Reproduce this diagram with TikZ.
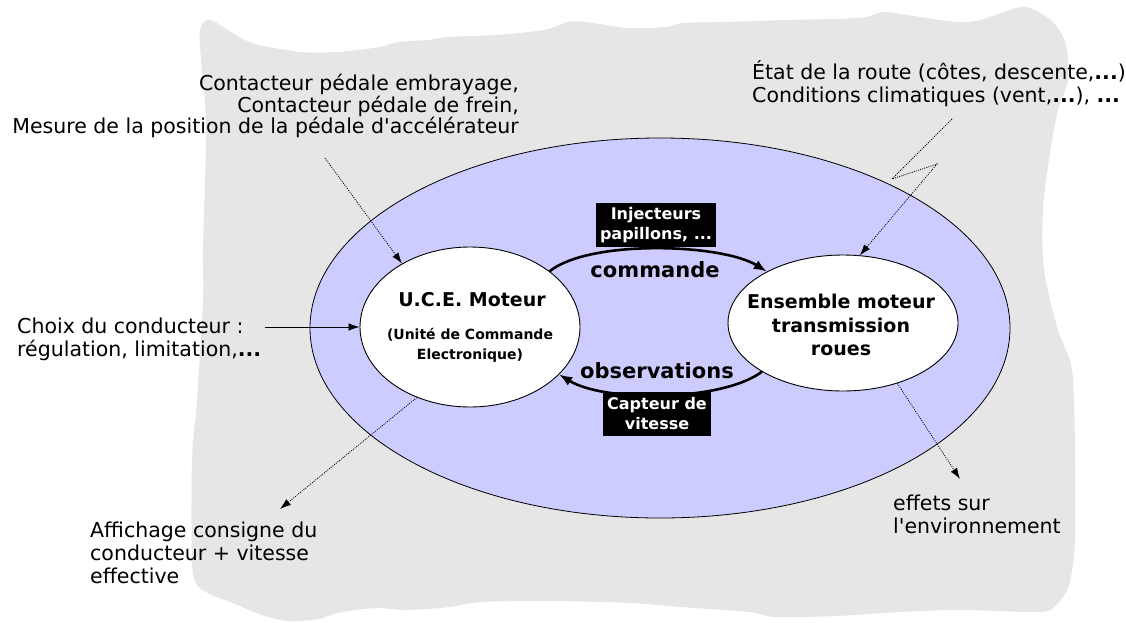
\documentclass[tikz,border=0pt]{standalone}
\usepackage{fontspec}
\newfontfamily\vfont{DejaVu Sans}
\usetikzlibrary{shapes.geometric,arrows.meta}
\definecolor{paper}{HTML}{E6E6E6}
\definecolor{lav}{HTML}{CCCCFF}

\begin{document}
\begin{tikzpicture}[x=1pt,y=-1pt,
  lbl/.style={font=\vfont\fontsize{20.5}{23}\selectfont, inner sep=0pt, align=left},
  inbold/.style={font=\vfont\bfseries\fontsize{19}{23.5}\selectfont, inner sep=0pt, align=center},
  flowlbl/.style={font=\vfont\bfseries\fontsize{21}{25}\selectfont, inner sep=0pt},
  tag/.style={fill=black, text=white, font=\vfont\bfseries\fontsize{16}{20}\selectfont,
    align=center, inner xsep=4.5pt, inner ysep=2pt, minimum height=44pt},
  unit/.style={ellipse, draw=black, line width=0.9pt, fill=white, inner sep=0pt},
  flow/.style={line width=2.6pt, -{Latex[length=13pt,width=10pt]}},
  hint/.style={line width=0.8pt, dash pattern=on 1pt off 1.2pt, -{Latex[length=11pt,width=7.5pt]}},
  feed/.style={line width=0.8pt, -{Latex[length=11pt,width=7.5pt]}},
]
\useasboundingbox (0,0) rectangle (1126,623);
\fill[white] (0,0) rectangle (1126,623);

% torn sheet behind the system
\fill[paper] plot[smooth cycle, tension=0.5] coordinates {
  (200,30) (210,20) (241,38) (259,45) (301,52) (338,52) (380,47) (398,42)
  (428,40) (447,37) (495,35) (544,30) (568,22) (586,22) (628,28) (665,27)
  (683,23) (725,22) (786,20) (859,18) (883,12) (907,15) (956,22) (980,20)
  (1016,8) (1030,8) (1053,22) (1066,45) (1068,80) (1058,110) (1050,153)
  (1043,210) (1044,270) (1058,330) (1072,370) (1075,450) (1075,540)
  (1069,585) (1056,605) (1040,612) (962,610) (900,612) (837,616) (775,617)
  (750,612) (681,607) (631,603) (550,601) (481,602) (450,607) (406,610)
  (375,608) (337,613) (319,619) (288,621) (262,615) (233,603) (212,595)
  (197,585) (192,560) (192,460) (197,400) (203,300) (203,250) (206,127)
  (201,60)};

% the controlled system
\node[ellipse, draw=black, line width=0.8pt, fill=lav, minimum width=700pt,
      minimum height=380pt, inner sep=0pt] (sys) at (660,328) {};

\node[unit, minimum width=220pt, minimum height=160pt] (uce) at (470,327) {};
\node[unit, minimum width=230pt, minimum height=136pt] (ens) at (843,323) {};

\node[inbold] (uceTitle) at (472,300) {U.C.E. Moteur};
\node[font=\vfont\bfseries\fontsize{14}{20}\selectfont, inner sep=0pt, align=center]
  (uceSub) at (470,345) {(Unité de Commande\\Electronique)};
\node[inbold] (ensText) at (841,325) {Ensemble moteur\\transmission\\roues};

% command and feedback loop
\draw[flow] (uce.35) .. controls +(40,-32) and +(-45,-28) .. (ens.146);
\draw[flow] (ens.211) .. controls +(-40,30) and +(45,28) .. (uce.-28);
\node[tag] (inj) at (656,225) {Injecteurs\\papillons, ...};
\node[tag] (capt) at (657,414) {Capteur de\\vitesse};
\node[flowlbl] (cmdLbl) at (655,270) {commande};
\node[flowlbl] (obsLbl) at (657,371) {observations};

% inputs and outputs
\node[lbl, align=right, anchor=east, font=\vfont\fontsize{20.5}{21.5}\selectfont]
  (pedal) at (519,106) {Contacteur pédale embrayage,\\Contacteur pédale de frein,\\Mesure de la position de la pédale d'accélérateur};
\node[lbl, anchor=west] (road) at (752,84)
  {État de la route (côtes, descente,\textbf{...})\\Conditions climatiques (vent,\textbf{...}), \textbf{...}};
\node[lbl, anchor=west] (choice) at (17,339) {Choix du conducteur :\\régulation, limitation,\textbf{...}};
\node[lbl, anchor=west] (display) at (90,553) {Affichage consigne du\\conducteur + vitesse\\effective};
\node[lbl, anchor=west] (effects) at (893,514) {effets sur\\l'environnement};

\coordinate (pedalFrom) at (325,158);
\coordinate (roadFrom) at (952,119);
\coordinate (roadKnee1) at (892,179);
\coordinate (roadKnee2) at (937,164);
\coordinate (choiceFrom) at (265,327);
\coordinate (displayTo) at (280,509);
\coordinate (effectsTo) at (960,479);

\draw[hint] (pedalFrom) -- (uce.137);
\draw[hint] (roadFrom) -- (roadKnee1) -- (roadKnee2) -- (ens.76);
\draw[feed] (choiceFrom) -- (uce.west);
\draw[hint] (uce.233) -- (displayTo);
\draw[hint] (ens.-48) -- (effectsTo);
\end{tikzpicture}
\end{document}
